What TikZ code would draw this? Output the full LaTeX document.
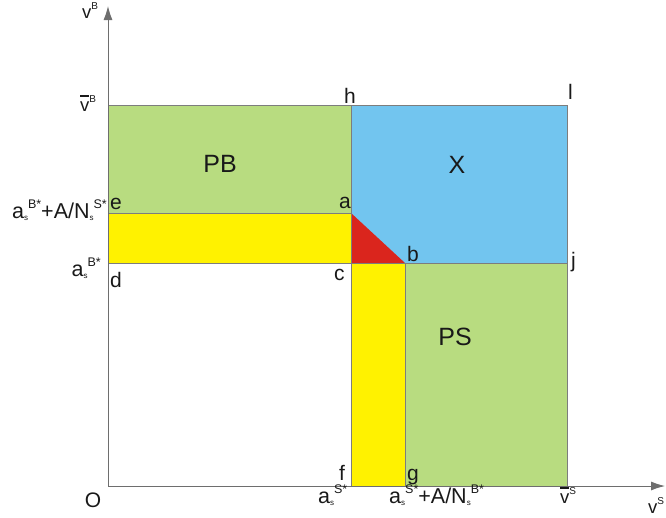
\documentclass[tikz,border=0pt]{standalone}
\usepackage{fontspec}
\setmainfont{Liberation Sans}
\usetikzlibrary{arrows.meta}
\definecolor{pgreen}{RGB}{184,220,128}
\definecolor{pblue}{RGB}{114,197,239}
\definecolor{pyellow}{RGB}{255,242,0}
\definecolor{pred}{RGB}{218,37,29}
\definecolor{edgegray}{RGB}{125,125,125}
\definecolor{axisgray}{RGB}{110,110,110}
\newcommand{\subs}{\raisebox{-2.5pt}{\fontsize{8}{8}\selectfont s}}
\newcommand{\sups}[1]{\raisebox{9.5pt}{\fontsize{12.5}{12.5}\selectfont #1}}
\newcommand{\asym}[1]{a\subs\sups{#1}}
\newcommand{\vsym}[1]{v\raisebox{8.5pt}{\fontsize{10}{10}\selectfont #1}}
\newcommand{\vbarsym}[1]{\rlap{\rule[14.5pt]{9pt}{1.2pt}}v\raisebox{8.5pt}{\fontsize{10}{10}\selectfont #1}}
\begin{document}
\begin{tikzpicture}[x=1pt,y=-1pt,
  lbl/.style={font=\fontsize{21}{21}\selectfont, inner sep=0pt, text=black!90},
  big/.style={font=\fontsize{25}{25}\selectfont, inner sep=0pt, text=black!90},
  axl/.style={font=\fontsize{21.5}{21.5}\selectfont, inner sep=0pt, text=black!90},
  vl/.style={font=\fontsize{18.5}{18.5}\selectfont, inner sep=0pt, text=black!90},
  edge/.style={draw=edgegray, line width=0.8pt},
  axisline/.style={draw=axisgray, line width=0.9pt, -{Latex[length=14pt,width=9pt]}}]
\useasboundingbox (0,0) rectangle (666,517);
% key coordinates
\coordinate (O) at (108,486);
\coordinate (topL) at (108,105);
\coordinate (h) at (351,105);
\coordinate (l) at (567,105);
\coordinate (e) at (108,213);
\coordinate (a) at (351,213);
\coordinate (d) at (108,263);
\coordinate (c) at (351,263);
\coordinate (b) at (405,263);
\coordinate (j) at (567,263);
\coordinate (f) at (351,486);
\coordinate (g) at (405,486);
\coordinate (k) at (567,486);
\coordinate (ytip) at (108,6);
\coordinate (xtip) at (665,486);
% regions
\fill[pgreen] (topL) rectangle (a);
\fill[pblue] (h) rectangle (j);
\fill[pyellow] (e) rectangle (c);
\fill[pred] (a) -- (c) -- (b) -- cycle;
\fill[pyellow] (c) rectangle (g);
\fill[pgreen] (b) rectangle (k);
% edges
\draw[edge] (topL) -- (l) -- (k);
\draw[edge] (h) -- (f);
\draw[edge] (e) -- (a);
\draw[edge] (d) -- (j);
\draw[edge] (b) -- (g);
% axes
\draw[axisline] (O) -- (ytip);
\draw[axisline] (O) -- (xtip);
% point labels
\node[lbl, anchor=base west] (lh) at (344,103) {h};
\node[lbl, anchor=base west] (ll) at (568,99) {l};
\node[lbl, anchor=base west] (la) at (339,208) {a};
\node[lbl, anchor=base west] (lb) at (407,261) {b};
\node[lbl, anchor=base west] (lc) at (334,280) {c};
\node[lbl, anchor=base west] (lj) at (571,267) {j};
\node[lbl, anchor=base west] (ld) at (110,287) {d};
\node[lbl, anchor=base west] (le) at (110,209) {e};
\node[lbl, anchor=base west] (lf) at (339,480) {f};
\node[lbl, anchor=base west] (lg) at (407,480) {g};
\node[lbl] (lO) at (93,500) {O};
% region labels
\node[big] (PB) at (220,164) {PB};
\node[big] (X) at (457,165) {X};
\node[big] (PS) at (455,337) {PS};
% axis labels
\node[vl, anchor=base west] (vB) at (82,18) {\vsym{B}};
\node[vl, anchor=base west] (vbB) at (80,111) {\vbarsym{B}};
\node[axl, anchor=base east] (ae) at (107,218) {\asym{B*}+A/N\subs\sups{S*}};
\node[axl, anchor=base east] (ad) at (101,276) {\asym{B*}};
\node[axl, anchor=base west] (af) at (318,503) {\asym{S*}};
\node[axl, anchor=base west] (ag) at (389,503) {\asym{S*}+A/N\subs\sups{B*}};
\node[vl, anchor=base west] (vbS) at (560,503) {\vbarsym{S}};
\node[vl, anchor=base west] (vS) at (648,513) {\vsym{S}};
\end{tikzpicture}
\end{document}
